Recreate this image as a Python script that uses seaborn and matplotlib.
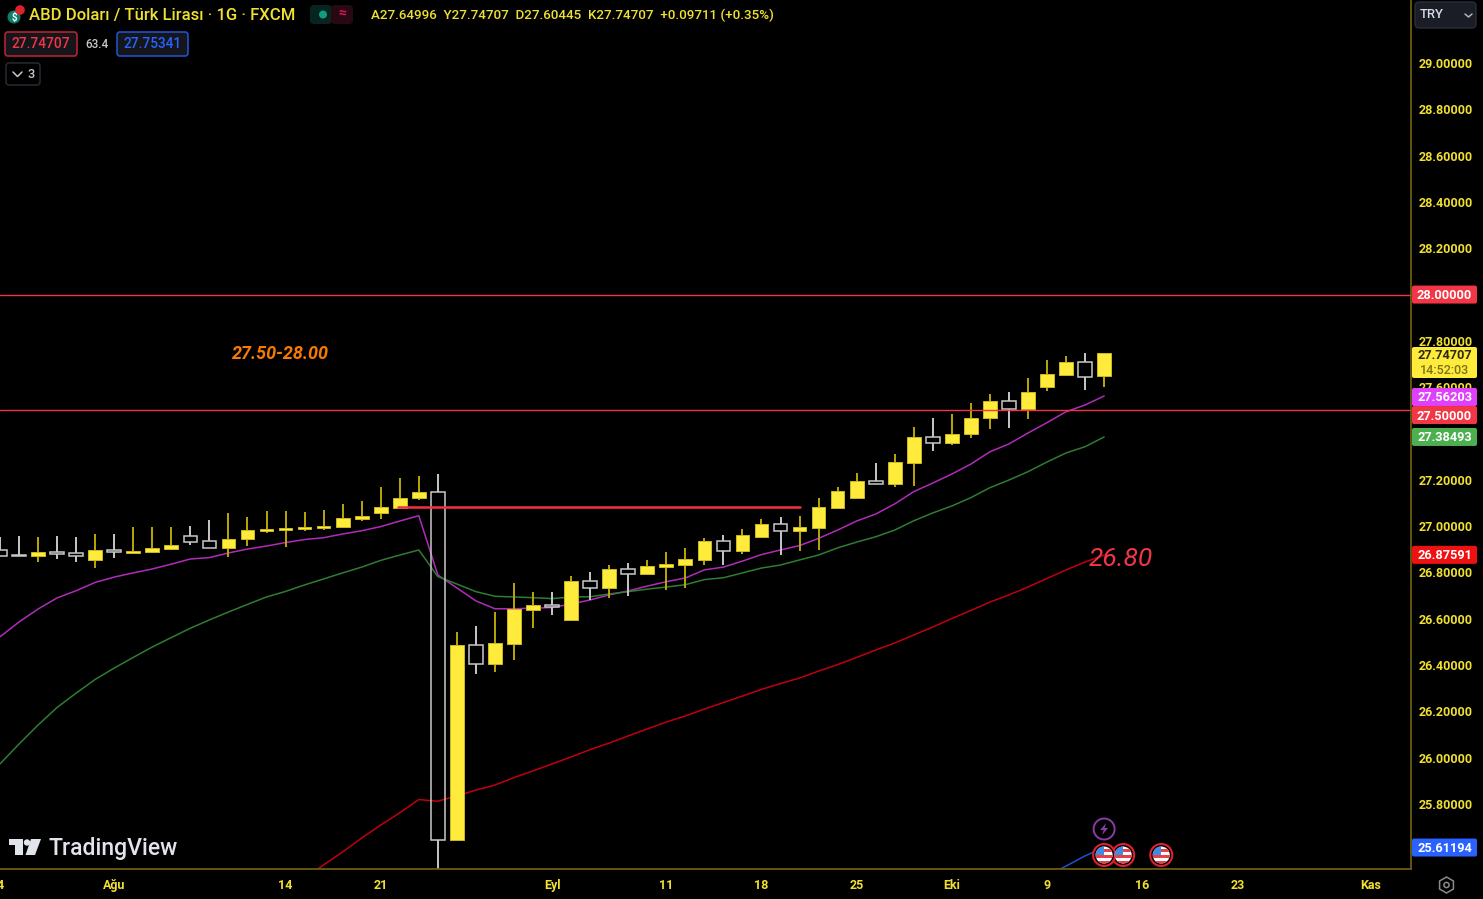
import matplotlib
matplotlib.use("Agg")
import matplotlib.pyplot as plt
from matplotlib.patches import Circle, FancyBboxPatch, Polygon, Rectangle, RegularPolygon
from matplotlib.transforms import IdentityTransform
import numpy as np
import pandas as pd
import seaborn as sns

W, H = 1483, 899

# daily USD/TRY candles, first bar shown is four sessions before "Agu"
first_bar = -6
opens = [26.897, 26.877, 26.872, 26.890, 26.885, 26.855, 26.896, 26.885, 26.887, 26.900,
         26.957, 26.934, 26.906, 26.943, 26.978, 26.983, 26.988, 26.992, 26.998, 27.032,
         27.057, 27.080, 27.121, 27.146, 25.645, 26.485, 26.406, 26.492, 26.639, 26.661,
         26.593, 26.762, 26.732, 26.814, 26.795, 26.822, 26.831, 26.854, 26.937, 26.891,
         26.954, 27.009, 26.978, 26.992, 27.080, 27.121, 27.194, 27.181, 27.273, 27.385,
         27.360, 27.397, 27.466, 27.542, 27.506, 27.600, 27.654, 27.710, 27.650]
highs = [26.953, 26.957, 26.953, 26.959, 26.954, 26.965, 26.965, 26.996, 26.996, 26.996,
         27.000, 27.025, 27.057, 27.038, 27.065, 27.065, 27.060, 27.070, 27.097, 27.107,
         27.170, 27.207, 27.216, 27.225, 26.541, 26.569, 26.629, 26.753, 26.716, 26.716,
         26.785, 26.803, 26.831, 26.839, 26.855, 26.887, 26.904, 26.950, 26.960, 26.986,
         27.029, 27.038, 27.042, 27.120, 27.170, 27.229, 27.271, 27.311, 27.427, 27.468,
         27.483, 27.533, 27.569, 27.579, 27.638, 27.717, 27.736, 27.749, 27.747]
lows = [26.871, 26.873, 26.846, 26.859, 26.846, 26.818, 26.864, 26.885, 26.887, 26.900,
        26.918, 26.906, 26.868, 26.914, 26.969, 26.909, 26.978, 26.985, 26.998, 27.023,
        27.029, 27.080, 27.112, 25.500, 25.645, 26.360, 26.371, 26.422, 26.561, 26.616,
        26.593, 26.681, 26.690, 26.698, 26.795, 26.726, 26.734, 26.831, 26.831, 26.881,
        26.950, 26.877, 26.891, 26.896, 27.080, 27.121, 27.181, 27.170, 27.175, 27.323,
        27.349, 27.382, 27.418, 27.424, 27.464, 27.585, 27.654, 27.588, 27.602]
closes = [26.871, 26.873, 26.888, 26.881, 26.872, 26.896, 26.887, 26.893, 26.904, 26.917,
          26.933, 26.906, 26.944, 26.982, 26.986, 26.992, 26.995, 27.000, 27.036, 27.042,
          27.083, 27.123, 27.146, 25.645, 26.485, 26.406, 26.495, 26.643, 26.661, 26.649,
          26.762, 26.732, 26.814, 26.795, 26.827, 26.836, 26.858, 26.937, 26.891, 26.960,
          27.010, 26.979, 26.996, 27.083, 27.152, 27.194, 27.181, 27.276, 27.385, 27.360,
          27.399, 27.468, 27.542, 27.507, 27.579, 27.656, 27.710, 27.645, 27.747]

ema_fast = [26.522, 26.586, 26.642, 26.690, 26.721, 26.757, 26.780, 26.798, 26.815, 26.836,
            26.858, 26.864, 26.884, 26.901, 26.914, 26.929, 26.942, 26.950, 26.966, 26.980,
            26.998, 27.022, 27.045, 26.789, 26.733, 26.677, 26.643, 26.643, 26.646, 26.648,
            26.664, 26.681, 26.703, 26.720, 26.741, 26.760, 26.776, 26.811, 26.823, 26.849,
            26.877, 26.897, 26.916, 26.947, 26.983, 27.022, 27.052, 27.096, 27.149, 27.186,
            27.225, 27.268, 27.321, 27.355, 27.402, 27.447, 27.494, 27.523, 27.562]
ema_mid = [25.973, 26.059, 26.141, 26.217, 26.279, 26.338, 26.387, 26.433, 26.478, 26.519,
           26.559, 26.595, 26.629, 26.662, 26.694, 26.718, 26.746, 26.772, 26.798, 26.823,
           26.852, 26.875, 26.897, 26.782, 26.750, 26.717, 26.697, 26.694, 26.691, 26.687,
           26.694, 26.695, 26.707, 26.717, 26.728, 26.737, 26.747, 26.769, 26.777, 26.798,
           26.819, 26.832, 26.854, 26.875, 26.906, 26.931, 26.954, 26.983, 27.023, 27.057,
           27.087, 27.123, 27.166, 27.199, 27.235, 27.277, 27.316, 27.343, 27.385]
# slow line only enters the view from bar 10 on
slow_start = 10
ema_slow = [25.480, 25.537, 25.593, 25.653, 25.709, 25.762, 25.819, 25.812, 25.835, 25.860,
            25.882, 25.914, 25.943, 25.973, 26.003, 26.035, 26.063, 26.094, 26.124, 26.154,
            26.180, 26.210, 26.238, 26.266, 26.295, 26.320, 26.344, 26.374, 26.402, 26.433,
            26.465, 26.495, 26.530, 26.564, 26.601, 26.636, 26.672, 26.703, 26.737, 26.774,
            26.811, 26.845, 26.875]
blue_start = 49
ema_blue = [25.489, 25.532, 25.576, 25.612]

levels = [28.0, 27.5]
resist_price = 27.083
resist_span = [14.9, 36.0]

xtick_pos = [-6, 0, 9, 14, 23, 29, 34, 39, 44, 49, 54, 59, 66]
xtick_labels = ["4", "Ağu", "14", "21", "Eyl", "11", "18", "25", "Eki", "9", "16", "23", "Kas"]
ytick_vals = [29.0, 28.8, 28.6, 28.4, 28.2, 27.8, 27.6, 27.2, 27.0, 26.8,
              26.6, 26.4, 26.2, 26.0, 25.8]
event_bars = [52, 53, 55]

BG = "#000000"
AXIS = "#6e6012"
YEL = "#FFEB3B"
YEL_DK = "#BBA70A"
TXT = "#F0E130"
HOLLOW = "#C8C8C8"
RED = "#F23645"

df = pd.DataFrame({"o": opens, "h": highs, "l": lows, "c": closes})
df["bar"] = np.arange(len(df)) + first_bar
df["top"] = df[["o", "c"]].max(axis=1)
df["bot"] = df[["o", "c"]].min(axis=1)
up = df[df.c >= df.o]
down = df[df.c < df.o]

sns.set_theme(style="dark", rc={"axes.facecolor": BG, "figure.facecolor": BG,
                                "axes.edgecolor": AXIS, "axes.grid": False})
plt.rcParams["font.family"] = ["Roboto", "DejaVu Sans"]

fig = plt.figure(figsize=(W / 100, H / 100), dpi=100)
ax = fig.add_axes([0, 1 - 869 / H, 1411 / W, 869 / H])
ax.set_xlim((0 - 114) / 19.04, (1411 - 114) / 19.04)
ax.set_ylim(29 - 806 / 231.56, 29 + 63 / 231.56)

# moving averages sit behind the candles
line_kw = dict(ax=ax, estimator=None, legend=False, zorder=1.5, linewidth=1.1)
bars = df.bar.values
sns.lineplot(x=bars, y=ema_fast, color="#B02CB8", **line_kw)
sns.lineplot(x=bars, y=ema_mid, color="#2F7D32", **line_kw)
sns.lineplot(x=np.arange(len(ema_slow)) + slow_start, y=ema_slow, color="#C00010", **line_kw)
sns.lineplot(x=np.arange(len(ema_blue)) + blue_start, y=ema_blue, color="#2050D0", **line_kw)

# candles
for part, wick, face, edge, elw in [(up, YEL_DK, YEL, "#CDBA1C", 0.7), (down, HOLLOW, "none", HOLLOW, 1.1)]:
    ax.vlines(part.bar, part.top, part.h, color=wick, lw=1.4, zorder=2)
    ax.vlines(part.bar, part.l, part.bot, color=wick, lw=1.4, zorder=2)
    ax.bar(part.bar, part.top - part.bot, bottom=part.bot, width=0.72, color=face,
           edgecolor=edge, linewidth=elw, zorder=2.1)

# drawings on top
for lv in levels:
    ax.axhline(lv, color=RED, lw=1.0, zorder=3)
ax.plot(resist_span, [resist_price, resist_price], color="#F4303F", lw=1.8, zorder=3)
ax.text(6.2, 27.743, "27.50-28.00", color="#F57C00", fontsize=13, style="italic",
        fontweight="bold", va="center", ha="left", zorder=4)
ax.text(51.2, 26.858, "26.80", color=RED, fontsize=19, style="italic", va="center",
        ha="left", zorder=4)

# axes
ax.spines["top"].set_visible(False)
ax.spines["left"].set_visible(False)
ax.spines["right"].set_color(AXIS)
ax.spines["bottom"].set_color(AXIS)
ax.yaxis.tick_right()
ax.set_yticks(ytick_vals)
ax.set_yticklabels([f"{v:.5f}" for v in ytick_vals])
ax.set_xticks(xtick_pos)
ax.set_xticklabels(xtick_labels)
ax.tick_params(axis="y", length=0, pad=5.2, labelsize=9.0, labelcolor=TXT)
ax.tick_params(axis="x", length=0, pad=7.0, labelsize=9.0, labelcolor=TXT)
for t in ax.get_xticklabels() + ax.get_yticklabels():
    t.set_fontweight("bold")


def box(x0, y0, x1, y1, fc, ec="none", r=3, lw=1.0, z=5):
    p = FancyBboxPatch((x0 + r, H - y1 + r), x1 - x0 - 2 * r, y1 - y0 - 2 * r,
                       boxstyle=f"round,pad={r},rounding_size={r}", fc=fc, ec=ec, lw=lw,
                       transform=IdentityTransform(), zorder=z)
    fig.add_artist(p)
    return p


def label(x, y, s, color=TXT, size=9.2, ha="left", weight="medium", z=6):
    return fig.text(x / W, 1 - y / H, s, color=color, fontsize=size, ha=ha, va="center",
                    fontweight=weight, zorder=z)


def price_y(price):
    return H - ax.transData.transform((0, price))[1]


def bar_x(bar):
    return ax.transData.transform((bar, 27))[0]


def tag(price, text, fc, tc="white", height=18, shift=0):
    y = price_y(price) + shift
    box(1412, y - height / 2, 1477, y + height / 2, fc, r=2)
    label(1444.5, y + 1, text, tc, 9.2, "center", "bold")


# price tags on the scale (close ones get pushed apart, as the scale does)
tag(28.0, "28.00000", RED)
box(1412, 347, 1477, 378, YEL, r=2)
label(1444.5, 355.5, "27.74707", "#2b2b10", 9.2, "center", "bold")
label(1444.5, 370, "14:52:03", "#7a7218", 9.0, "center")
tag(27.562, "27.56203", "#E040FB", shift=1)
tag(27.5, "27.50000", RED, shift=4.7)
tag(27.385, "27.38493", "#4CAF50")
tag(26.87591, "26.87591", "#EE1111")
tag(25.61194, "25.61194", "#2962FF")

# header row
sym_g = Circle((14, H - 17), 6.5, fc="#0B7F68", ec="none", transform=IdentityTransform(), zorder=5)
sym_r = Circle((20, H - 10), 4.8, fc="#E0202C", ec="none", transform=IdentityTransform(), zorder=5)
fig.add_artist(sym_g)
fig.add_artist(sym_r)
label(14, 18, "$", "white", 7, "center", "bold")
label(29, 15.5, "ABD Doları / Türk Lirası · 1G · FXCM", TXT, 12.0)
box(310, 5, 332, 24, "#072420", r=4)
box(331, 5, 353, 24, "#2a0812", r=4)
fig.add_artist(Circle((323, H - 14.5), 4, fc="#0F9D80", ec="none",
                      transform=IdentityTransform(), zorder=6))
label(342, 14, "≈", "#D81B60", 10, "center", "bold")
label(371, 15, "A27.64996  Y27.74707  D27.60445  K27.74707  +0.09711 (+0.35%)", TXT, 9.6)
box(5, 32, 77, 56, "#14161c", "#B32430", lw=1.2)
label(41, 44, "27.74707", RED, 9.8, "center")
label(96.5, 44, "63.4", "#C8C8C8", 8.4, "center")
box(117, 32, 188, 56, "#14161c", "#2450C8", lw=1.2)
label(152.5, 44, "27.75341", "#2962FF", 9.8, "center")
box(6, 63, 40, 85, BG, "#2a2e39", lw=1.0)
fig.add_artist(plt.Line2D([13, 17.5, 22], [H - 72, H - 76.5, H - 72], color="#C8C8C8", lw=1.1,
                          transform=IdentityTransform(), zorder=6))
label(31, 74, "3", "#C8C8C8", 9.2, "center")

# currency selector
box(1415, 2, 1476, 28, "#1a1d26", "#2a2e39", r=4)
label(1420, 15, "TRY", "#D8DCE6", 9.4)
fig.add_artist(plt.Line2D([1465, 1468.5, 1472], [H - 14, H - 17, H - 14], color="#B0B3BC", lw=1.1,
                          transform=IdentityTransform(), zorder=6))

# settings gear
fig.add_artist(RegularPolygon((1446.5, H - 885), 6, radius=8, fc="none", ec="#8a8a8a", lw=1.1,
                              transform=IdentityTransform(), zorder=6))
fig.add_artist(Circle((1446.5, H - 885), 2.6, fc="none", ec="#8a8a8a", lw=1.1,
                      transform=IdentityTransform(), zorder=6))

# watermark
LOGO = "#E2E4EC"
for pts in [[(9, 839), (22.5, 839), (22.5, 855), (15, 855), (15, 845), (9, 845)],
            [(31, 839), (41, 839), (35, 855), (25.5, 855)]]:
    fig.add_artist(Polygon([(x, H - y) for x, y in pts], fc=LOGO, ec="none",
                           transform=IdentityTransform(), zorder=6))
fig.add_artist(Circle((27, H - 842.5), 3.2, fc=LOGO, ec="none", transform=IdentityTransform(), zorder=6))
label(49, 848, "TradingView", LOGO, 16.6, weight="medium")

# event markers along the bottom
for bar in reversed(event_bars):
    cx, cy = bar_x(bar), H - 855
    fig.add_artist(Circle((cx, cy), 11, fc=BG, ec="#E02030", lw=1.5,
                          transform=IdentityTransform(), zorder=7))
    disc = Circle((cx, cy), 8.5, fc="white", ec="none", transform=IdentityTransform(), zorder=7.1)
    fig.add_artist(disc)
    for off in [-8.5, -2.5, 3.5]:
        s = Rectangle((cx - 9, cy + off), 18, 3, fc="#E8404A", ec="none",
                      transform=IdentityTransform(), zorder=7.2)
        fig.add_artist(s)
        s.set_clip_path(disc)
    c = Rectangle((cx - 9, cy), 9, 9, fc="#3F8BE8", ec="none",
                  transform=IdentityTransform(), zorder=7.3)
    fig.add_artist(c)
    c.set_clip_path(disc)

bx = bar_x(event_bars[0])
fig.add_artist(Circle((bx, H - 829), 10.5, fc=BG, ec="#8A3BA8", lw=1.4,
                      transform=IdentityTransform(), zorder=7))
bolt = [(2, -6), (-4, 1), (-0.5, 1), (-2, 6), (4, -1), (0.5, -1)]
fig.add_artist(Polygon([(bx + a, H - 829 - b) for a, b in bolt], fc="#8A3BA8", ec="none",
                       transform=IdentityTransform(), zorder=7.1))

fig.savefig("out.png", dpi=100, facecolor=BG)
